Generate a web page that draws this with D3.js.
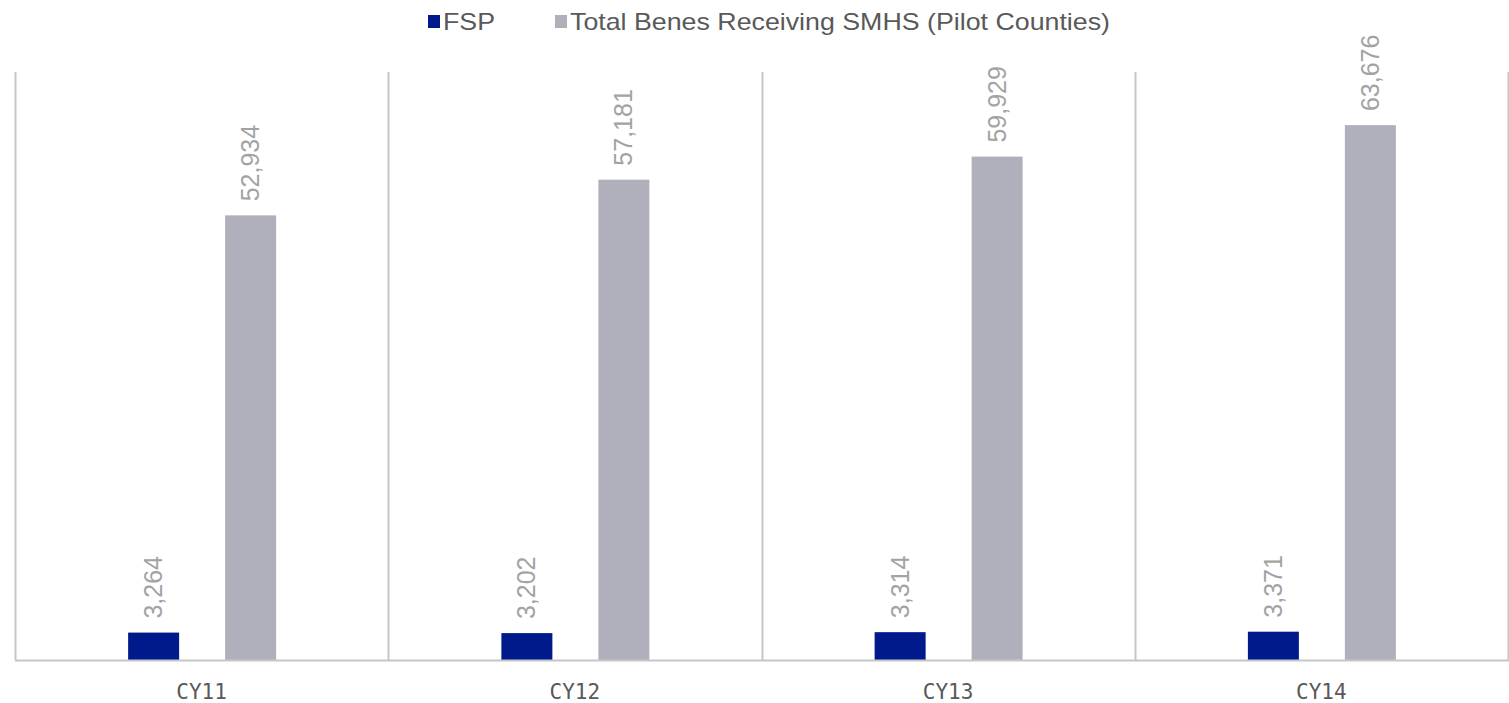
<!DOCTYPE html>
<html>
<head>
<meta charset="utf-8">
<script src="https://cdn.jsdelivr.net/npm/d3@7"></script>
<style>
  html, body { margin: 0; padding: 0; background: #fff; }
  svg { display: block; }
</style>
</head>
<body>
<svg id="chart" width="1509" height="703"></svg>
<script>
const categories = ["CY11", "CY12", "CY13", "CY14"];
const seriesNames = ["FSP", "Total Benes Receiving SMHS (Pilot Counties)"];
const fspValues = [3264, 3202, 3314, 3371];
const smhsValues = [52934, 57181, 59929, 63676];
const colors = ["#001a8c", "#b0b0bc"];

const W = 1509, H = 703;
const margin = { left: 15, right: 1, top: 72, bottom: 43 };
const svg = d3.select("#chart");

const x = d3.scaleBand().domain(categories).range([margin.left, W - margin.right]).paddingInner(0).paddingOuter(0);
const y = d3.scaleLinear().domain([0, 70000]).range([H - margin.bottom, margin.top]);

const barW = 51;
const offsets = [-48, 49];
const labelFont = "'Liberation Sans Narrow', 'Liberation Sans', Arial, sans-serif";

// gridlines (category separators)
const grid = svg.append("g");
const seps = categories.map(c => x(c)).concat([x(categories[categories.length - 1]) + x.bandwidth()]);
grid.selectAll("line").data(seps).enter().append("line")
  .attr("x1", d => Math.round(d) + 0.5).attr("x2", d => Math.round(d) + 0.5)
  .attr("y1", y(70000)).attr("y2", y(0))
  .attr("stroke", "#c6c6c6").attr("stroke-width", 2);

// bars
const seriesData = [fspValues, smhsValues];
seriesData.forEach((vals, si) => {
  const g = svg.append("g");
  g.selectAll("rect").data(vals).enter().append("rect")
    .attr("x", (d, i) => x(categories[i]) + x.bandwidth() / 2 + offsets[si] - barW / 2)
    .attr("width", barW)
    .attr("y", d => y(d))
    .attr("height", d => y(0) - y(d))
    .attr("fill", colors[si]);
  g.selectAll("text").data(vals).enter().append("text")
    .attr("transform", (d, i) => {
      const cx = x(categories[i]) + x.bandwidth() / 2 + offsets[si];
      return `translate(${cx + 8.5},${y(d) - 14}) rotate(-90)`;
    })
    .attr("font-family", labelFont)
    .attr("font-size", 25)
    .attr("fill", "#a3a3a3")
    .text(d => d3.format(",")(d));
});

// x axis baseline
svg.append("line")
  .attr("x1", margin.left).attr("x2", W)
  .attr("y1", y(0) + 0.5).attr("y2", y(0) + 0.5)
  .attr("stroke", "#c6c6c6").attr("stroke-width", 2);

// category labels
svg.append("g").selectAll("text").data(categories).enter().append("text")
  .attr("x", d => x(d) + x.bandwidth() / 2)
  .attr("y", 699)
  .attr("text-anchor", "middle")
  .attr("font-family", "'DejaVu Sans Mono', 'Liberation Mono', monospace")
  .attr("font-size", 21)
  .attr("fill", "#595959")
  .text(d => d);

// legend
const legend = svg.append("g");
const legendItems = [
  { name: seriesNames[0], color: colors[0], sx: 428, tx: 443, w: 52 },
  { name: seriesNames[1], color: colors[1], sx: 555, tx: 570, w: 540 }
];
legendItems.forEach(it => {
  legend.append("rect").attr("x", it.sx).attr("y", 15).attr("width", 12).attr("height", 13).attr("fill", it.color);
  legend.append("text").attr("x", it.tx).attr("y", 30)
    .attr("font-family", labelFont)
    .attr("font-size", 24)
    .attr("fill", "#595959")
    .attr("textLength", it.w).attr("lengthAdjust", "spacingAndGlyphs")
    .text(it.name);
});
</script>
</body>
</html>
